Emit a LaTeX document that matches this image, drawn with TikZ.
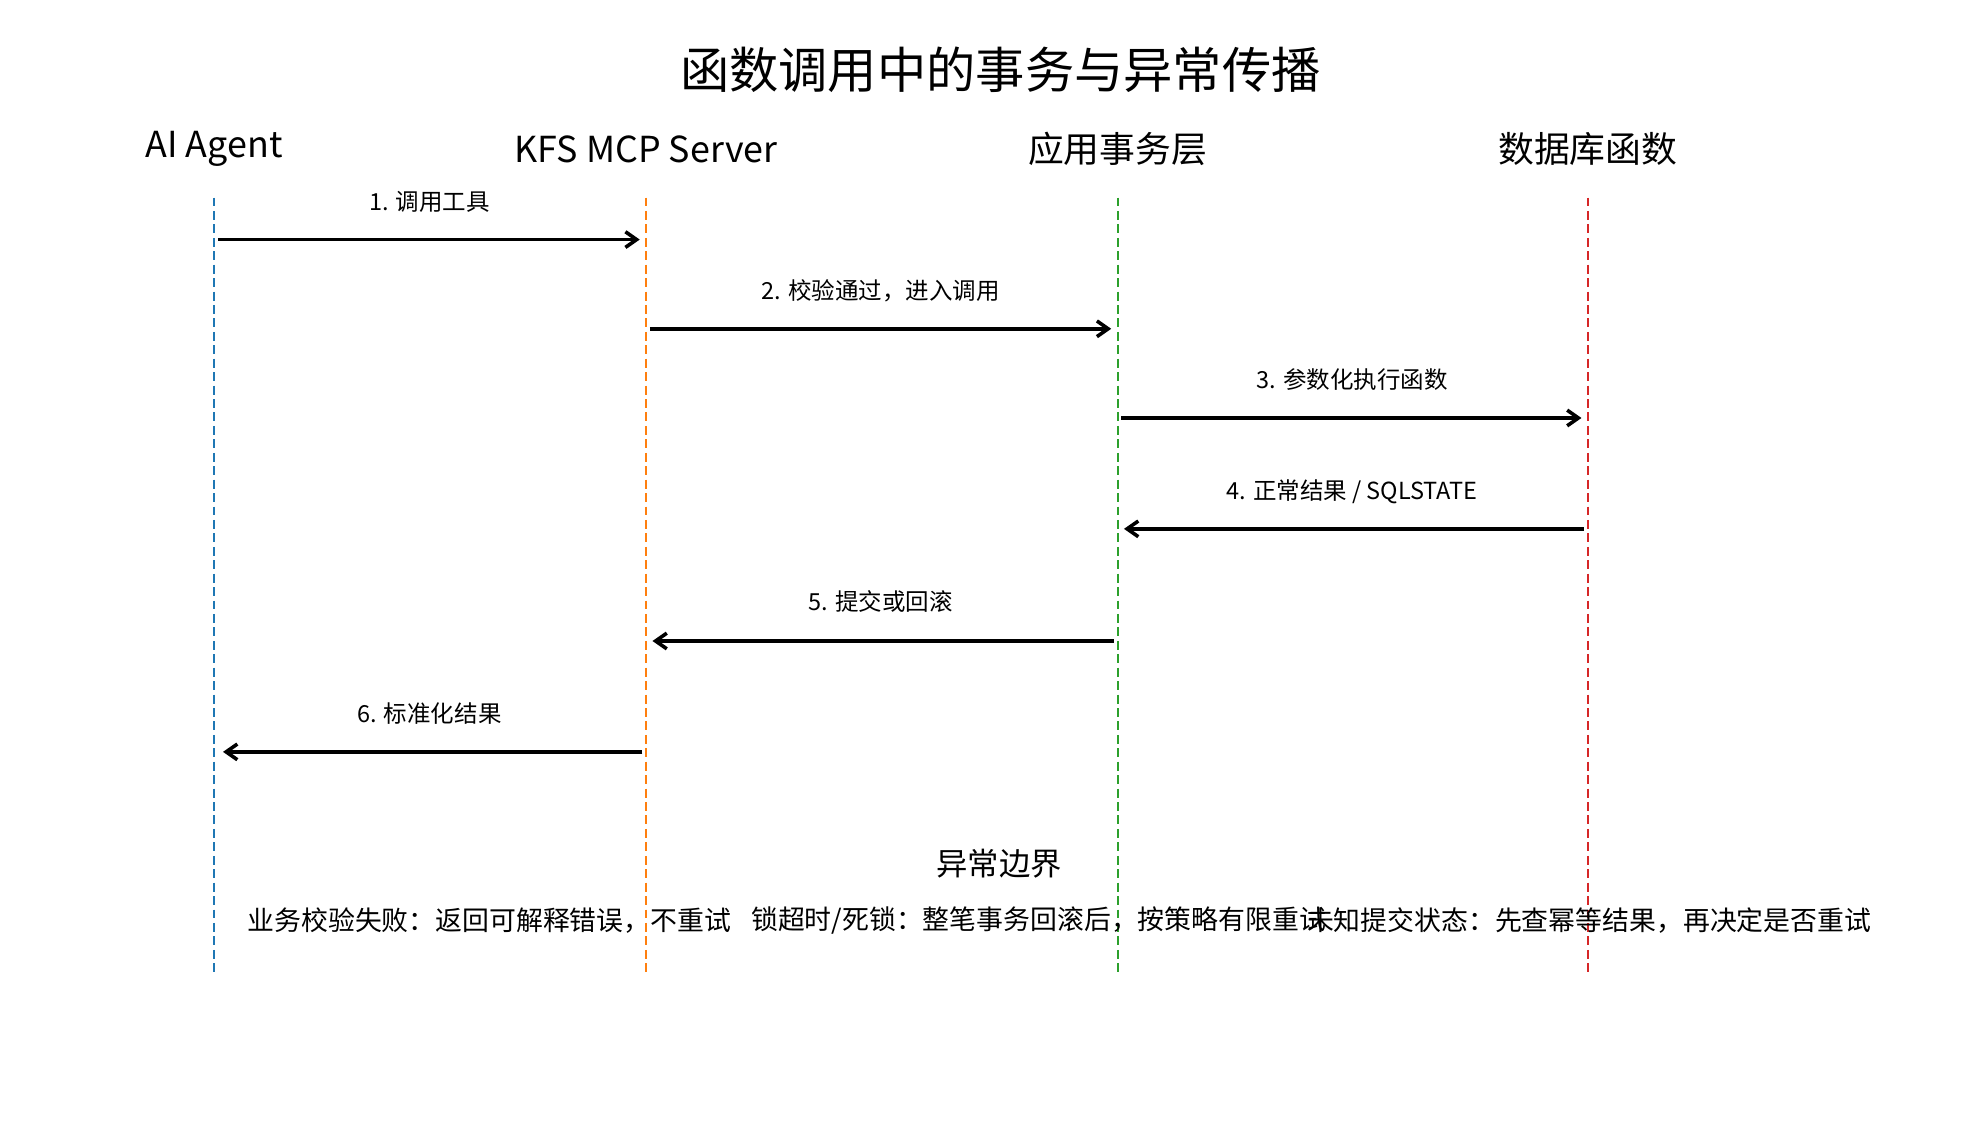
\documentclass[tikz,border=0pt]{standalone}
\usepackage{fontspec}
\setmainfont{Noto Sans CJK SC}
\usetikzlibrary{arrows.meta}
\definecolor{cb}{HTML}{1F77B4}
\definecolor{co}{HTML}{FF7F0E}
\definecolor{cg}{HTML}{2CA02C}
\definecolor{cr}{HTML}{D62728}
\begin{document}
\begin{tikzpicture}[x=0.02cm,y=-0.02cm,
 life/.style={dashed,line width=1pt,dash pattern=on 4pt off 2pt},
 msg/.style={-{Straight Barb[length=5pt,width=7pt]},line width=1.6pt},
 actor/.style={font=\fontsize{16}{18}\selectfont},
 lbl/.style={font=\fontsize{10.5}{12}\selectfont,anchor=base},
 note/.style={font=\fontsize{12}{14}\selectfont}]
\useasboundingbox (0,0) rectangle (1560,898);
\node[font=\fontsize{22}{26}\selectfont] (title) at (785,55) {函数调用中的事务与异常传播};
\node[actor] (A) at (168,117) {AI Agent};
\node[actor] (K) at (507,117) {KFS MCP Server};
\node[actor] (T) at (877,117) {应用事务层};
\node[actor] (D) at (1246,117) {数据库函数};
\foreach \n/\x/\c in {a/168/cb,k/507/co,t/877/cg,d/1246/cr}{
 \coordinate (\n1) at (\x,155); \coordinate (\n2) at (\x,765);
 \draw[life,\c] (\n1) -- (\n2);}
\coordinate (m1s) at (171,188); \coordinate (m1e) at (502,188);
\coordinate (m2s) at (510,258); \coordinate (m2e) at (872,258);
\coordinate (m3s) at (880,328); \coordinate (m3e) at (1241,328);
\coordinate (m4s) at (1243,415); \coordinate (m4e) at (882,415);
\coordinate (m5s) at (874,503); \coordinate (m5e) at (512,503);
\coordinate (m6s) at (504,590); \coordinate (m6e) at (175,590);
\foreach \i in {1,...,6}{\draw[msg] (m\i s) -- (m\i e);}
\node[lbl] (l1) at (337,165) {1. 调用工具};
\node[lbl] (l2) at (691,235) {2. 校验通过，进入调用};
\node[lbl] (l3) at (1061,305) {3. 参数化执行函数};
\node[lbl] (l4) at (1061,392) {4. 正常结果 / SQLSTATE};
\node[lbl] (l5) at (691,479) {5. 提交或回滚};
\node[lbl] (l6) at (337,567) {6. 标准化结果};
\node[font=\fontsize{14}{16}\selectfont] (eb) at (784,678) {异常边界};
\node[note] (n1) at (384,722) {业务校验失败：返回可解释错误，不重试};
\node[note] (n2) at (815,722) {锁超时/死锁：整笔事务回滚后，按策略有限重试};
\node[note] (n3) at (1247,722) {未知提交状态：先查幂等结果，再决定是否重试};
\end{tikzpicture}
\end{document}
